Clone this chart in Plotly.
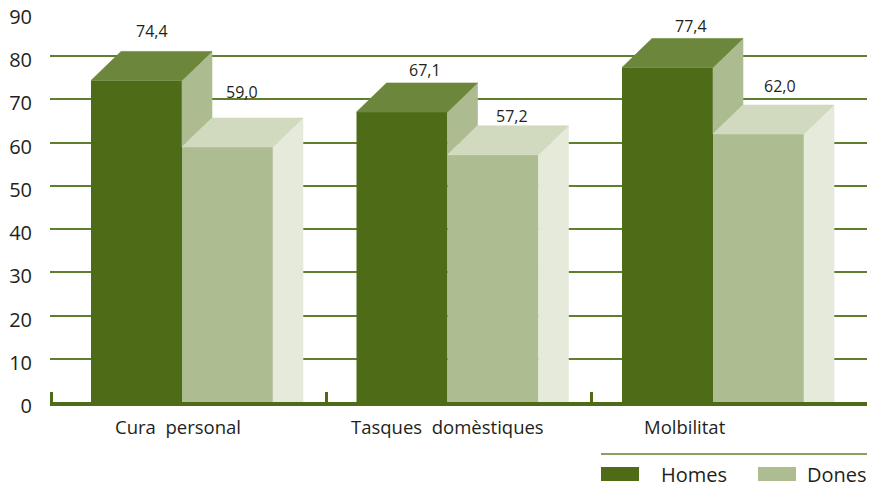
import plotly.graph_objects as go

# ---------------- data ----------------
categories = ["Cura  personal", "Tasques  domèstiques", "Molbilitat"]
homes = [74.4, 67.1, 77.4]
dones = [59.0, 57.2, 62.0]
series_names = ["Homes", "Dones"]
y_tick_values = [0, 10, 20, 30, 40, 50, 60, 70, 80, 90]

# ---------------- style ----------------
FONT = "Open Sans"
TEXT = "#231f20"
C_H_FRONT, C_H_TOP, C_H_SIDE = "#4e6b18", "#6c873c", "#acbc90"
C_D_FRONT, C_D_TOP, C_D_SIDE = "#adbd91", "#d1dabf", "#e5eadb"
GRID = "#5e7f2e"
AXIS = "#4e6b18"

PAGE_OFF = 8                 # default body margin of the html page
W, H = 875 - PAGE_OFF, 488 - PAGE_OFF
ML, MR, MT, MB = 50 - PAGE_OFF, 0, 12 - PAGE_OFF, 86
PW, PH = W - ML - MR, H - MT - MB
Y_TOP_TICK = 90
Y_MAX = Y_TOP_TICK * PH / (PH - 1)   # leave 1px so the 90 gridline is drawn
PX_PER_Y = PH / Y_MAX
SPACING_PX = 265.5           # px between category centres
FIRST_CENTER_PX = 182        # page px of first category centre
BAR_PX = 91                  # bar front width in px
DEPTH_PX = 30                # 3D depth offset in px

px_per_x = SPACING_PX
x_lo = (50 - FIRST_CENTER_PX) / px_per_x
x_hi = (875 - FIRST_CENTER_PX) / px_per_x
w = BAR_PX / px_per_x
dx = DEPTH_PX / px_per_x
dy = 29 / PX_PER_Y

# per-label pixel nudges (text placement only)
label_xshift = {"Homes": [0, 8, 8], "Dones": [-1, 4, 6]}
label_yshift = {"Homes": [20, 13, 12], "Dones": [26, 10, 19]}
cat_xshift = [-4, 0, -28]

xs = list(range(len(categories)))


def fmt(v):
    return f"{v:.1f}".replace(".", ",")


def poly_trace(polys, color):
    X, Y = [], []
    for p in polys:
        for (a, b) in p:
            X.append(a)
            Y.append(b)
        X.append(p[0][0])
        Y.append(p[0][1])
        X.append(None)
        Y.append(None)
    return go.Scatter(x=X, y=Y, mode="lines", fill="toself", fillcolor=color,
                      line=dict(width=0.6, color=color), hoverinfo="skip",
                      showlegend=False)


fig = go.Figure()

# front faces as bars
fig.add_trace(go.Bar(x=xs, y=homes, name=series_names[0], width=w, offset=-w,
                     marker=dict(color=C_H_FRONT, line=dict(width=0)),
                     showlegend=False))
fig.add_trace(go.Bar(x=xs, y=dones, name=series_names[1], width=w, offset=0,
                     marker=dict(color=C_D_FRONT, line=dict(width=0)),
                     showlegend=False))

# 3D faces derived from the values
h_side, h_top, d_side, d_top = [], [], [], []
for i, (h, d) in enumerate(zip(homes, dones)):
    h_side.append([(i, d), (i, h), (i + dx, h + dy), (i + dx, d + dy)])
    h_top.append([(i - w, h), (i, h), (i + dx, h + dy), (i - w + dx, h + dy)])
    d_side.append([(i + w, 0), (i + w, d), (i + w + dx, d + dy), (i + w + dx, 0)])
    d_top.append([(i, d), (i + w, d), (i + w + dx, d + dy), (i + dx, d + dy)])

fig.add_trace(poly_trace(h_side, C_H_SIDE))
fig.add_trace(poly_trace(h_top, C_H_TOP))
fig.add_trace(poly_trace(d_side, C_D_SIDE))
fig.add_trace(poly_trace(d_top, C_D_TOP))

annotations = []
# value labels
for name, vals, off in (("Homes", homes, -w / 2), ("Dones", dones, w / 2)):
    for i, v in enumerate(vals):
        annotations.append(dict(
            x=i + off + dx / 2, y=v + dy, xref="x", yref="y", text=fmt(v),
            showarrow=False, xanchor="center", yanchor="middle",
            xshift=label_xshift[name][i], yshift=label_yshift[name][i],
            font=dict(family=FONT, size=16, color=TEXT)))

# category labels
for i, c in enumerate(categories):
    annotations.append(dict(
        x=i, y=0, xref="x", yref="y", text=c.replace("  ", "&nbsp;&nbsp;"),
        showarrow=False, xanchor="center", yanchor="middle",
        xshift=cat_xshift[i], yshift=-24,
        font=dict(family=FONT, size=18.5, color=TEXT)))


# custom legend (page pixel -> paper)
def px_x(p):
    return (p - 50) / PW


def px_y(p):
    return (402 - p) / PH


shapes = [dict(type="line", xref="paper", yref="paper",
               x0=px_x(601), x1=1.0, y0=px_y(454), y1=px_y(454),
               line=dict(color=GRID, width=1.5))]
for name, color, sx, tx in ((series_names[0], C_H_FRONT, 601, 659),
                            (series_names[1], C_D_FRONT, 758, 805)):
    shapes.append(dict(type="rect", xref="paper", yref="paper",
                       x0=px_x(sx), x1=px_x(sx + 38), y0=px_y(481), y1=px_y(467),
                       fillcolor=color, line=dict(width=0)))
    annotations.append(dict(x=px_x(tx), y=px_y(474), xref="paper", yref="paper",
                            text=name, showarrow=False, xanchor="left",
                            yanchor="middle",
                            font=dict(family=FONT, size=20, color=TEXT)))

fig.update_layout(
    width=W, height=H,
    margin=dict(l=ML, r=MR, t=MT, b=MB, autoexpand=False),
    paper_bgcolor="white", plot_bgcolor="white",
    barmode="overlay",
    showlegend=False,
    font=dict(family=FONT, color=TEXT),
    annotations=annotations,
    shapes=shapes,
    xaxis=dict(range=[x_lo, x_hi], showgrid=False, zeroline=False,
               showline=True, linecolor=AXIS, linewidth=4,
               tickmode="array", tickvals=[x_lo + 0.004, 0.543, 1.544],
               ticktext=["", "", ""], ticks="inside", ticklen=10,
               tickwidth=3, tickcolor=AXIS, showticklabels=False,
               automargin=False, fixedrange=True),
    yaxis=dict(range=[0, Y_MAX], tickmode="array", tickvals=y_tick_values,
               showgrid=True, gridcolor=GRID, gridwidth=2, zeroline=False,
               showline=False, ticks="", ticklabelstandoff=17,
               ticklabelshift=4,
               ticklabeloverflow="allow", automargin=False,
               tickfont=dict(family=FONT, size=20, color=TEXT),
               fixedrange=True),
)

fig.write_html("out.html")
